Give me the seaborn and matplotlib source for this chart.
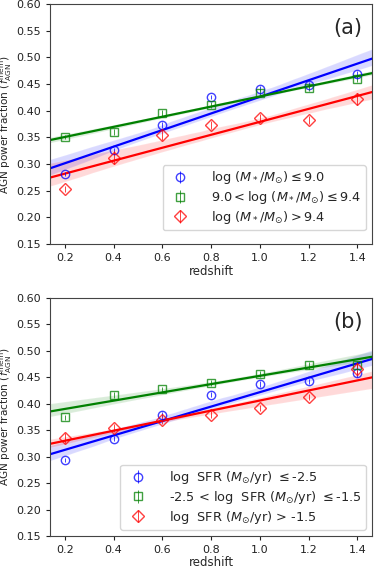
import numpy as np
import pandas as pd
import matplotlib
matplotlib.use("Agg")
import matplotlib.pyplot as plt
import seaborn as sns

redshift = [0.2, 0.4, 0.6, 0.8, 1.0, 1.2, 1.4]

# panel (a): stellar-mass bins
mass_low = [0.282, 0.326, 0.373, 0.425, 0.441, 0.449, 0.468]
mass_mid = [0.351, 0.360, 0.395, 0.411, 0.434, 0.443, 0.460]
mass_high = [0.253, 0.312, 0.355, 0.373, 0.386, 0.383, 0.422]
mass_low_err = [0.004, 0.005, 0.005, 0.004, 0.005, 0.005, 0.006]
mass_mid_err = [0.004, 0.006, 0.006, 0.005, 0.006, 0.006, 0.007]
mass_high_err = [0.006, 0.012, 0.010, 0.008, 0.008, 0.008, 0.012]
mass_labels = [r"log $(M_*/M_{\odot}) \leq 9.0$",
               r"9.0$<$log $(M_*/M_{\odot}) \leq 9.4$",
               r"log $(M_*/M_{\odot}) > 9.4$"]

# panel (b): SFR bins
sfr_low = [0.294, 0.334, 0.379, 0.417, 0.437, 0.442, 0.457]
sfr_mid = [0.374, 0.416, 0.427, 0.439, 0.456, 0.472, 0.473]
sfr_high = [0.335, 0.354, 0.369, 0.379, 0.392, 0.412, 0.466]
sfr_low_err = [0.004, 0.005, 0.005, 0.005, 0.005, 0.005, 0.006]
sfr_mid_err = [0.005, 0.006, 0.005, 0.005, 0.005, 0.006, 0.008]
sfr_high_err = [0.010, 0.008, 0.007, 0.006, 0.006, 0.006, 0.010]
sfr_labels = [r"log  SFR ($M_{\odot}$/yr) $\leq$-2.5",
              r"-2.5 < log  SFR ($M_{\odot}$/yr) $\leq$-1.5",
              r"log  SFR ($M_{\odot}$/yr) > -1.5"]

colors = ["blue", "green", "red"]
markers = ["o", "s", "D"]
msizes = [6, 5.3, 6.2]

sns.set_style("ticks")
plt.rcParams["font.family"] = ["DejaVu Sans"]
plt.rcParams["mathtext.fontset"] = "dejavusans"

fig = plt.figure(figsize=(3.74, 5.69), dpi=100)
ax_a = fig.add_axes([0.134, 0.571, 0.861, 0.422])
ax_b = fig.add_axes([0.134, 0.058, 0.861, 0.419])


def draw(ax, series, errs, labels, tag, leg_anchor):
    ax.set_xlim(0.14, 1.46)
    ax.set_ylim(0.15, 0.60)
    for ys, es, lab, c, m, ms in zip(series, errs, labels, colors, markers, msizes):
        df = pd.DataFrame({"z": redshift, "f": ys})
        ax.errorbar(redshift, ys, yerr=es, fmt=m, mfc="none", mec=c, ms=ms,
                    mew=1.0, ecolor=c, elinewidth=0.7, alpha=0.75,
                    label=lab, zorder=3)
        sns.regplot(data=df, x="z", y="f", ax=ax, scatter=False, ci=68,
                    n_boot=2000, color=c, truncate=False, seed=3,
                    line_kws={"lw": 1.6, "zorder": 2})
    ax.set_xlim(0.14, 1.46)
    ax.set_ylim(0.15, 0.60)
    ax.set_xticks([0.2, 0.4, 0.6, 0.8, 1.0, 1.2, 1.4])
    ax.set_yticks(np.arange(0.15, 0.601, 0.05))
    ax.set_yticklabels([f"{v:.2f}" for v in np.arange(0.15, 0.601, 0.05)])
    ax.tick_params(labelsize=8, length=3, width=0.8, colors="#222222")
    for s in ax.spines.values():
        s.set_color("#444444")
        s.set_linewidth(0.8)
    ax.set_xlabel("redshift", fontsize=8.5, labelpad=1)
    ax.set_ylabel(r"AGN power fraction ($f^{\rm mem}_{\rm AGN}$)", fontsize=7.6,
                  labelpad=1.5)
    ax.text(0.97, 0.94, tag, transform=ax.transAxes, ha="right", va="top",
            fontsize=15)
    leg = ax.legend(loc="lower right", bbox_to_anchor=leg_anchor,
                    fontsize=9.3, frameon=True, borderpad=0.35,
                    labelspacing=0.2, handletextpad=1.4, borderaxespad=0.0)
    leg.get_frame().set_edgecolor("#cccccc")


draw(ax_a, [mass_low, mass_mid, mass_high],
     [mass_low_err, mass_mid_err, mass_high_err], mass_labels, "(a)",
     (0.981, 0.058))
draw(ax_b, [sfr_low, sfr_mid, sfr_high],
     [sfr_low_err, sfr_mid_err, sfr_high_err], sfr_labels, "(b)",
     (0.981, 0.025))

fig.savefig("out.png", dpi=100)
